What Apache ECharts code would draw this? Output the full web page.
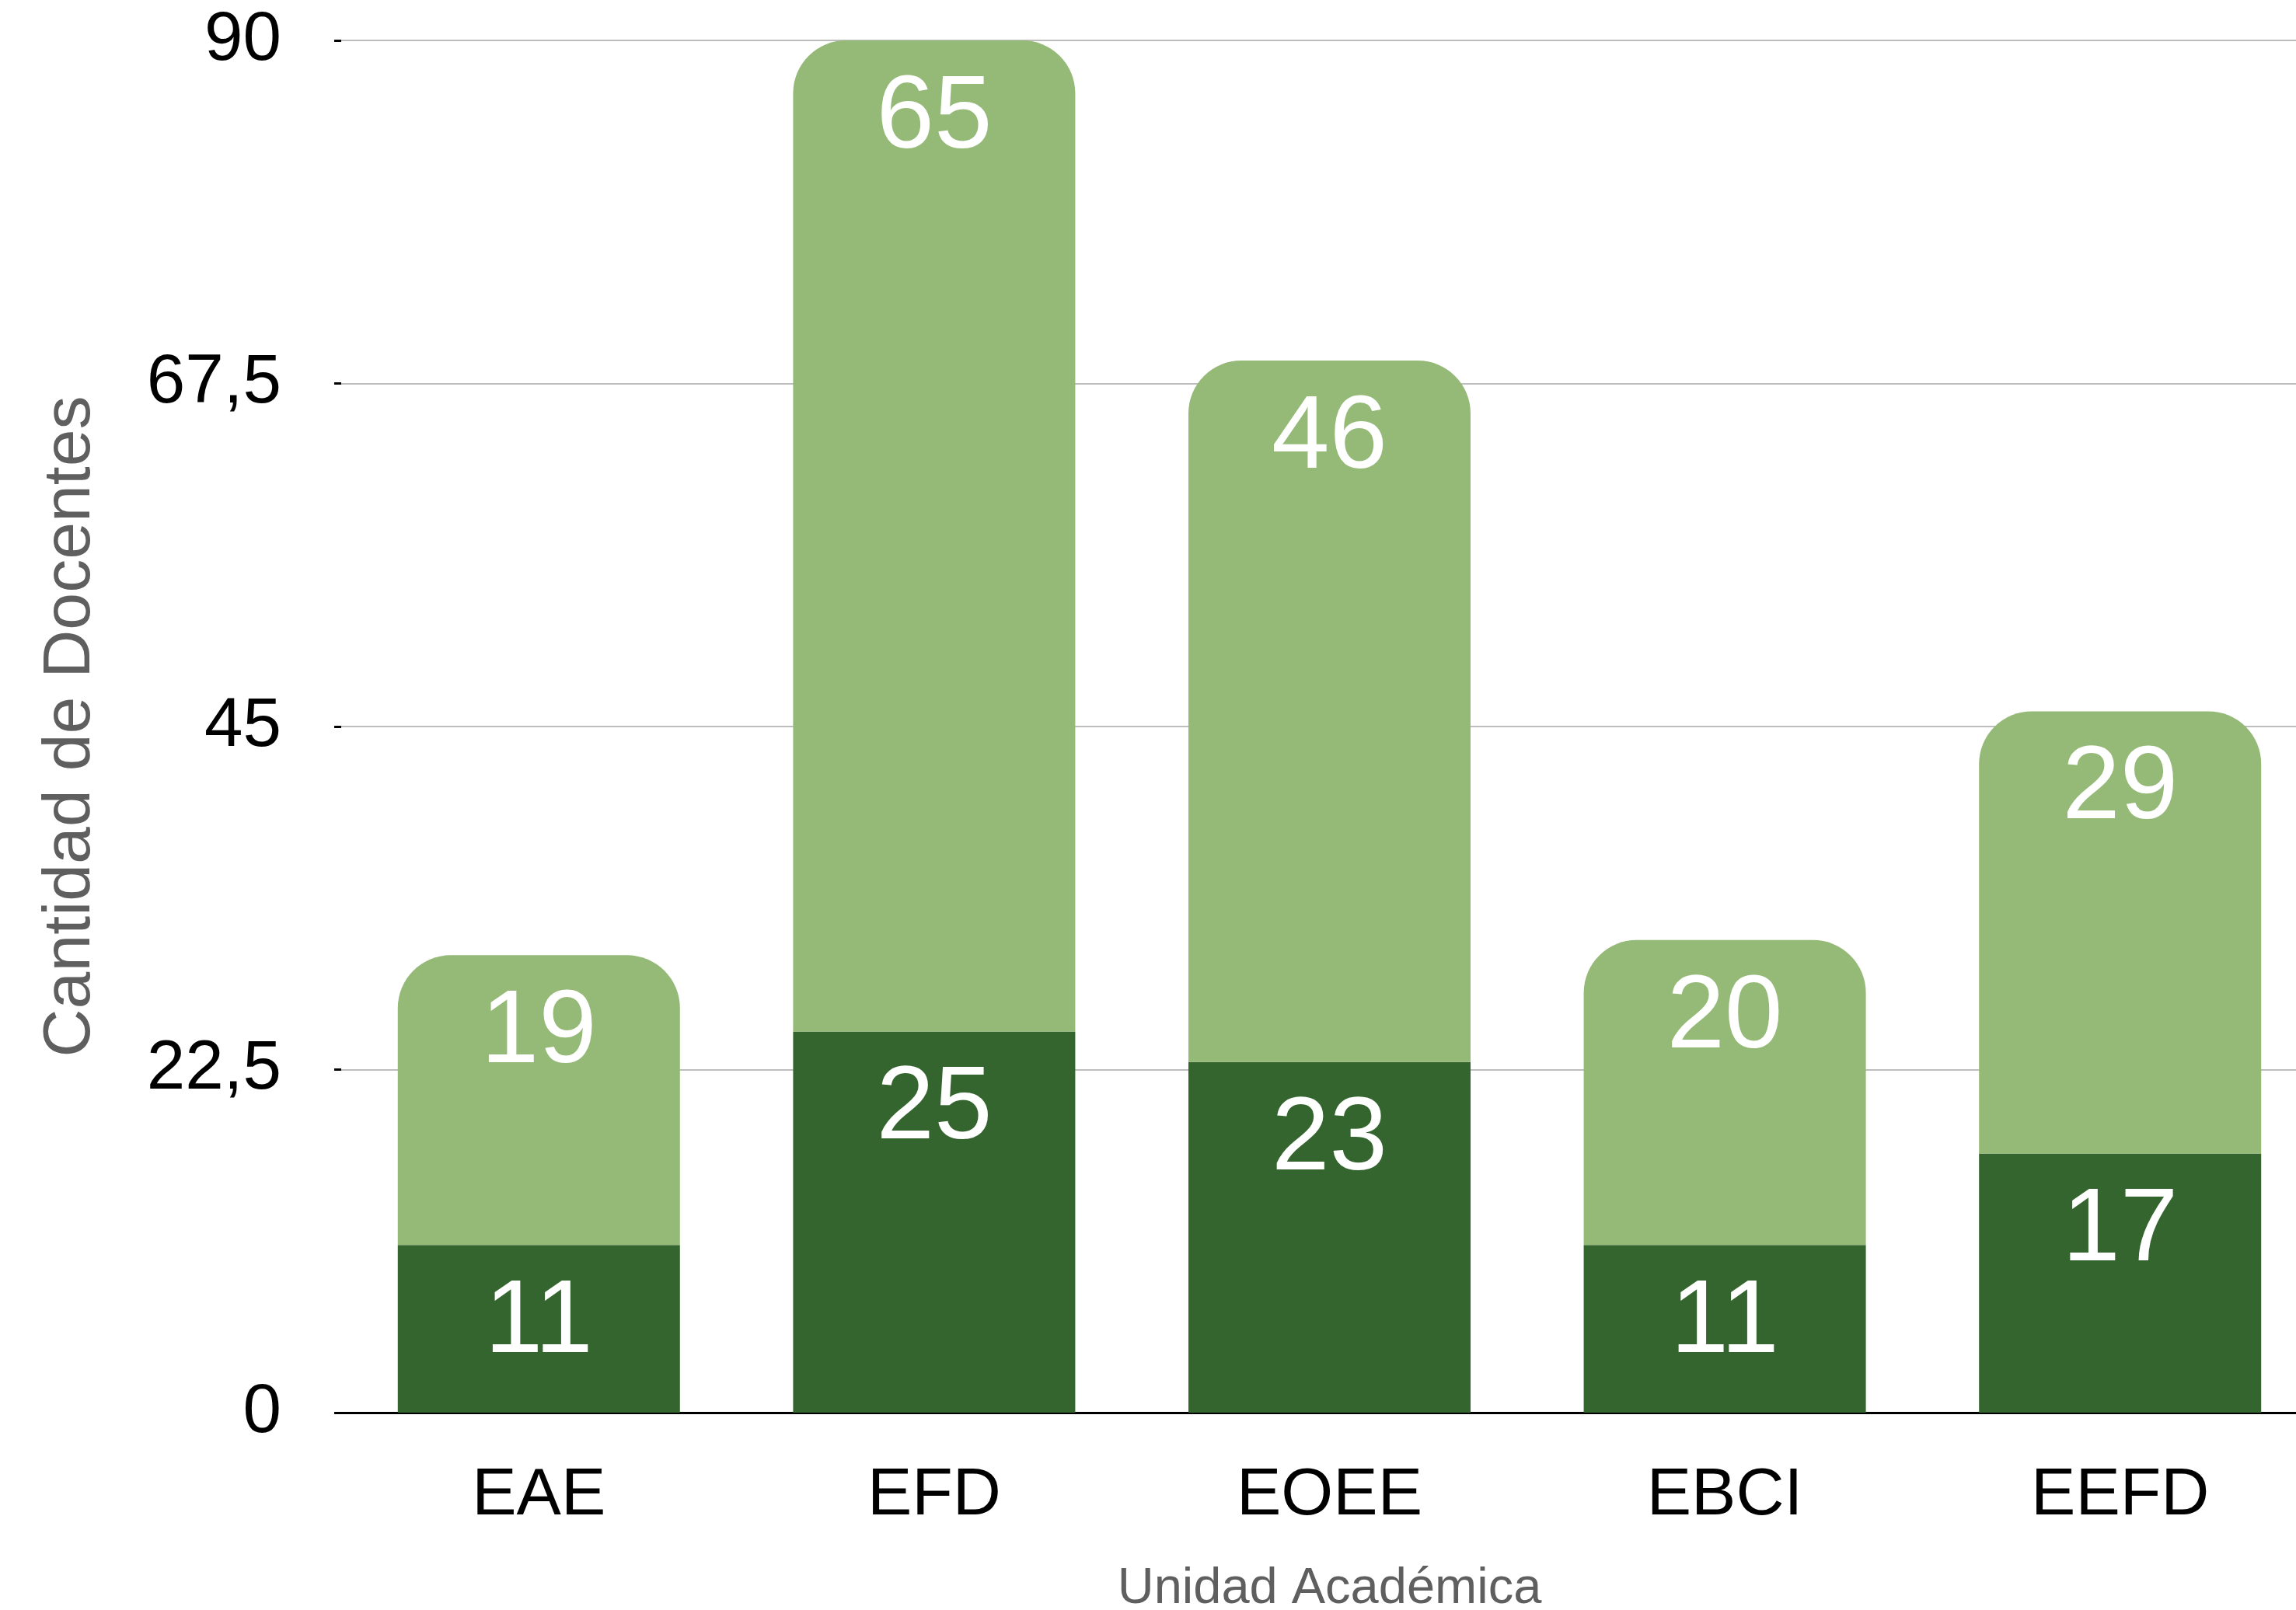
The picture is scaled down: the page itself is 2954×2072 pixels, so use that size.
<!DOCTYPE html>
<html>
<head>
<meta charset="utf-8">
<script src="https://cdn.jsdelivr.net/npm/echarts@6/dist/echarts.min.js"></script>
<style>
html,body{margin:0;padding:0;background:#fff;}
#chart{width:2954px;height:2072px;}
</style>
</head>
<body>
<div id="chart"></div>
<script>
const categories = ['EAE', 'EFD', 'EOEE', 'EBCI', 'EEFD'];
const seriesDark = [11, 25, 23, 11, 17];
const seriesLight = [19, 65, 46, 20, 29];
const yTickValues = [0, 22.5, 45, 67.5, 90];
const yTickLabels = ['0', '22,5', '45', '67,5', '90'];
const yAxisTitle = 'Cantidad de Docentes';
const xAxisTitle = 'Unidad Académica';

const FONT = '"Liberation Sans", Arial, sans-serif';
const chart = echarts.init(document.getElementById('chart'), null, {renderer: 'canvas'});

const valueLabel = {
  show: true,
  position: 'insideTop',
  distance: 34,
  color: '#ffffff',
  fontFamily: FONT,
  fontSize: 134,
  lineHeight: 134
};

chart.setOption({
  animation: false,
  backgroundColor: '#ffffff',
  grid: {left: 439, width: 2543, top: 52, bottom: 254, containLabel: false, outerBoundsMode: 'none'},
  xAxis: {
    type: 'category',
    data: categories,
    name: xAxisTitle,
    nameLocation: 'middle',
    nameGap: 195,
    nameTextStyle: {color: '#5f5f5f', fontFamily: FONT, fontSize: 65},
    axisLine: {show: true, lineStyle: {color: '#000000', width: 3}},
    axisTick: {show: false},
    axisLabel: {color: '#000000', fontFamily: FONT, fontSize: 86, margin: 64}
  },
  yAxis: {
    type: 'value',
    min: 0,
    max: 90,
    interval: 22.5,
    name: yAxisTitle,
    nameLocation: 'middle',
    nameGap: 305,
    nameRotate: 90,
    nameTextStyle: {color: '#5f5f5f', fontFamily: FONT, fontSize: 86},
    axisLine: {show: false},
    axisTick: {show: true, inside: false, length: 9, lineStyle: {color: '#000000', width: 3}},
    splitLine: {show: true, lineStyle: {color: '#bdbdbd', width: 2}},
    axisLabel: {
      color: '#000000', fontFamily: FONT, fontSize: 89, margin: 77,
      formatter: function (v) {
        const i = yTickValues.indexOf(v);
        return i >= 0 ? yTickLabels[i] : String(v).replace('.', ',');
      }
    }
  },
  series: [
    {
      type: 'bar',
      stack: 'total',
      data: seriesDark,
      barWidth: 363,
      itemStyle: {color: '#34652e'},
      label: valueLabel
    },
    {
      type: 'bar',
      stack: 'total',
      data: seriesLight,
      barWidth: 363,
      itemStyle: {color: '#95b977', borderRadius: [68, 68, 0, 0]},
      label: valueLabel
    }
  ]
});
</script>
</body>
</html>
